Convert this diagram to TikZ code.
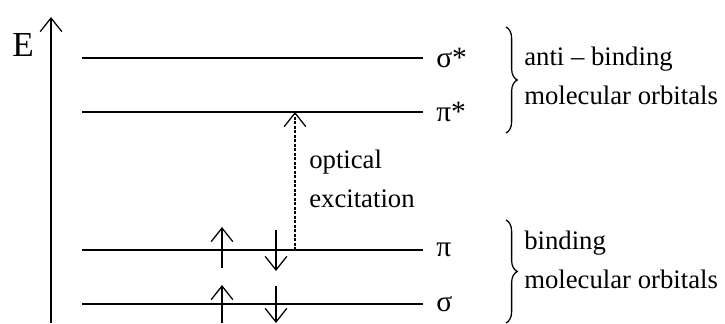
\documentclass[tikz,border=0pt]{standalone}
\usepackage{fontspec}
\setmainfont{Liberation Serif}
\usetikzlibrary{arrows.meta,decorations.pathreplacing}

\begin{document}
\begin{tikzpicture}[x=0.025cm,y=-0.025cm,>={Straight Barb[length=3.4mm,width=5.4mm]},
level/.style={line width=0.9pt},
spin/.style={->,line width=0.9pt},
excite/.style={->,line width=0.9pt,dash pattern=on 2pt off 1.2pt},
orb/.style={anchor=west,inner sep=0pt,font=\fontsize{21}{21}\selectfont},
lab/.style={anchor=west,align=left,inner sep=0pt,font=\fontsize{19}{28}\selectfont},
curly/.style={line width=0.9pt,decorate,decoration={brace,amplitude=8pt}}]
\useasboundingbox (0,0) rectangle (725,323);
% energy axis
\coordinate (axisbot) at (51,323);
\coordinate (axistop) at (51,17);
\draw[spin] (axisbot)--(axistop);
\node[inner sep=0pt,font=\fontsize{25}{25}\selectfont] (energy) at (23,45) {E};
% levels
\coordinate (sstarL) at (82,58);  \coordinate (sstarR) at (423,58);
\coordinate (pstarL) at (82,112); \coordinate (pstarR) at (423,112);
\coordinate (piL) at (82,250);    \coordinate (piR) at (423,250);
\coordinate (sigL) at (82,304);   \coordinate (sigR) at (423,304);
\draw[level] (sstarL)--(sstarR);
\draw[level] (pstarL)--(pstarR);
\draw[level] (piL)--(piR);
\draw[level] (sigL)--(sigR);
\node[orb] (sstar) at (436,58) {σ*};
\node[orb] (pstar) at (436,112) {π*};
\node[orb] (pi) at (436,250) {π};
\node[orb] (sig) at (436,304) {σ};
% electrons
\coordinate (piupA) at (222,268);  \coordinate (piupB) at (222,227);
\coordinate (pidnA) at (276,230);  \coordinate (pidnB) at (276,271);
\coordinate (sigupA) at (222,323); \coordinate (sigupB) at (222,285);
\coordinate (sigdnA) at (276,286); \coordinate (sigdnB) at (276,323);
\draw[spin] (piupA)--(piupB);
\draw[spin] (pidnA)--(pidnB);
\draw[spin] (sigupA)--(sigupB);
\draw[spin] (sigdnA)--(sigdnB);
% excitation
\coordinate (exfrom) at (295,250);
\coordinate (exto) at (295,112);
\draw[excite] (exfrom)--(exto);
\node[lab] (exlab) at (309,179) {optical\\excitation};
% braces
\coordinate (antitop) at (506,27);  \coordinate (antibot) at (506,133);
\coordinate (bindtop) at (506,220); \coordinate (bindbot) at (506,323);
\draw[curly] (antitop)--(antibot);
\draw[curly] (bindtop)--(bindbot);
\node[lab] (antilab) at (524,76) {anti – binding\\molecular orbitals};
\node[lab] (bindlab) at (524,260) {binding\\molecular orbitals};
\end{tikzpicture}
\end{document}
